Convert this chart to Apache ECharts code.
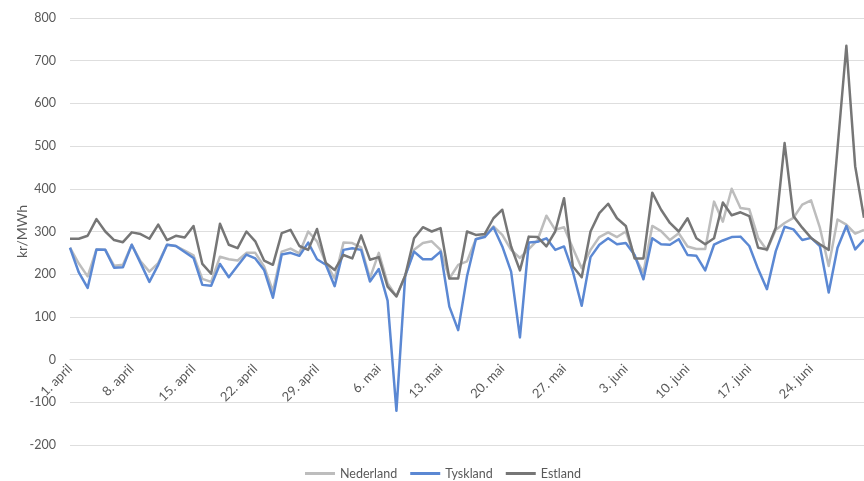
<!DOCTYPE html>
<html>
<head>
<meta charset="utf-8">
<title>Strømpriser</title>
<script src="https://cdn.jsdelivr.net/npm/echarts@6/dist/echarts.min.js"></script>
<style>
  html, body { margin: 0; padding: 0; background: #ffffff; }
  #chart { width: 864px; height: 481px; }
</style>
</head>
<body>
<div id="chart"></div>
<script>
// Daily day-ahead prices, 1 April - 30 June (kr/MWh)
const months = [
  { name: 'april', days: 30 },
  { name: 'mai', days: 31 },
  { name: 'juni', days: 30 }
];
const categories = [];
months.forEach(m => {
  for (let d = 1; d <= m.days; d++) categories.push(d + '. ' + m.name);
});

const nederland = [
  262, 225, 195, 258, 257, 220, 222, 269, 230, 206,
  226, 269, 266, 255, 244, 189, 182, 241, 235, 232,
  250, 250, 218, 160, 253, 260, 249, 300, 277, 226,
  190, 274, 273, 263, 191, 250, 179, 148, 197, 257,
  273, 277, 257, 190, 222, 230, 282, 290, 312, 292,
  257, 238, 259, 280, 337, 304, 310, 261, 214, 257,
  287, 298, 287, 300, 241, 204, 313, 301, 280, 296,
  265, 259, 259, 370, 323, 400, 355, 352, 285, 256,
  304, 320, 332, 363, 373, 309, 219, 328, 316, 295,
  304
];

const tyskland = [
  262, 204, 168, 258, 257, 215, 216, 269, 226, 182,
  222, 269, 266, 252, 238, 175, 173, 224, 193, 220,
  246, 237, 210, 145, 246, 250, 243, 274, 235, 222,
  172, 257, 261, 257, 183, 212, 138, -120, 197, 253,
  235, 235, 253, 124, 69, 195, 282, 287, 310, 265,
  206, 52, 274, 276, 284, 257, 265, 206, 126, 240,
  269, 284, 270, 273, 245, 188, 284, 270, 269, 282,
  245, 243, 209, 269, 279, 287, 288, 266, 212, 165,
  254, 311, 305, 280, 285, 266, 157, 262, 313, 258,
  281
];

const estland = [
  283, 283, 290, 329, 300, 280, 275, 298, 294, 283,
  316, 280, 290, 286, 313, 224, 201, 318, 269, 261,
  300, 277, 232, 222, 296, 304, 266, 257, 306, 226,
  210, 245, 237, 291, 234, 240, 171, 148, 197, 284,
  310, 300, 308, 190, 190, 300, 292, 294, 331, 351,
  265, 209, 288, 287, 265, 300, 378, 218, 193, 300,
  343, 365, 331, 313, 237, 237, 391, 351, 320, 300,
  331, 284, 270, 284, 368, 338, 345, 336, 262, 258,
  309, 507, 336, 309, 285, 270, 257, 495, 735, 453,
  332
];

const seriesNames = ['Nederland', 'Tyskland', 'Estland'];
const seriesColors = ['#bdbdbd', '#5b88d3', '#767676'];
const seriesData = [nederland, tyskland, estland];

const yMin = -200;
const yMax = 800;

const textColor = '#595959';
const gridColor = '#dedede';
const fontFamily = 'Lato, "Liberation Sans", sans-serif';

const gridTop = 18;
const gridBottom = 36;
const chartHeight = 481;
// place the category axis on the zero line
const plotHeight = chartHeight - gridTop - gridBottom;
const zeroOffset = -plotHeight * (0 - yMin) / (yMax - yMin);

const chart = echarts.init(document.getElementById('chart'), null, { renderer: 'canvas' });

chart.setOption({
  animation: false,
  backgroundColor: '#ffffff',
  grid: {
    left: 70, right: 0, top: gridTop, bottom: gridBottom,
    containLabel: false,
    outerBoundsMode: 'none'
  },
  legend: {
    top: 462,
    left: 300,
    icon: 'rect',
    itemWidth: 30,
    itemHeight: 3,
    itemGap: 13,
    textStyle: { color: textColor, fontSize: 12.5, fontFamily: fontFamily },
    data: seriesNames
  },
  xAxis: {
    type: 'category',
    data: categories,
    boundaryGap: false,
    offset: zeroOffset,
    axisLine: { show: true, onZero: false, lineStyle: { color: gridColor } },
    axisTick: { show: false },
    axisLabel: {
      interval: 6,
      rotate: 45,
      margin: 7,
      color: textColor,
      fontSize: 13,
      fontFamily: fontFamily
    },
    splitLine: { show: false }
  },
  yAxis: {
    type: 'value',
    min: yMin,
    max: yMax,
    interval: 100,
    name: 'kr/MWh',
    nameLocation: 'middle',
    nameGap: 41,
    nameMoveOverlap: false,
    nameTextStyle: { color: textColor, fontSize: 14, fontFamily: fontFamily },
    axisLine: { show: false },
    axisTick: { show: false },
    axisLabel: { color: textColor, fontSize: 12.5, fontFamily: fontFamily, margin: 14 },
    splitLine: { lineStyle: { color: gridColor, width: 1 } }
  },
  series: seriesNames.map((name, i) => ({
    name: name,
    type: 'line',
    data: seriesData[i],
    symbol: 'none',
    smooth: false,
    lineStyle: { color: seriesColors[i], width: 2.5, join: 'round' },
    itemStyle: { color: seriesColors[i] },
    z: i + 2
  }))
});
</script>
</body>
</html>
